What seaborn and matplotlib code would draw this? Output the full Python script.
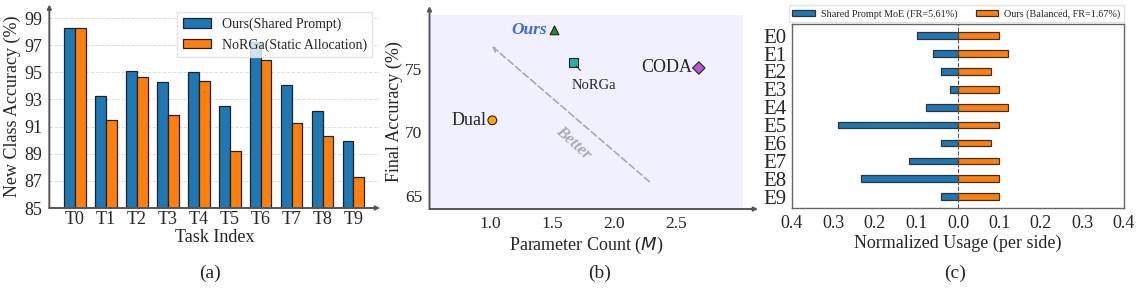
import numpy as np
import pandas as pd
import seaborn as sns
from matplotlib import pyplot as plt
from matplotlib.ticker import FuncFormatter

# (a) new class accuracy per task
tasks = ["T0", "T1", "T2", "T3", "T4", "T5", "T6", "T7", "T8", "T9"]
ours_acc = [98.3, 93.25, 95.12, 94.3, 95.02, 92.54, 97.2, 94.05, 92.17, 89.93]
norga_acc = [98.3, 91.48, 94.62, 91.87, 94.33, 89.22, 95.93, 91.23, 90.3, 87.27]
bar_names = ["Ours(Shared Prompt)", "NoRGa(Static Allocation)"]

# (b) parameter count vs final accuracy
methods = ["Ours", "NoRGa", "CODA", "Dual"]
param_count = [1.52, 1.67, 2.68, 1.02]
final_acc = [78.0, 75.45, 75.05, 70.95]

# (c) expert usage
experts = ["E0", "E1", "E2", "E3", "E4", "E5", "E6", "E7", "E8", "E9"]
shared_usage = [0.098, 0.059, 0.04, 0.02, 0.078, 0.29, 0.04, 0.117, 0.233, 0.04]
balanced_usage = [0.10, 0.12, 0.08, 0.10, 0.12, 0.10, 0.08, 0.10, 0.10, 0.10]
usage_names = ["Shared Prompt MoE (FR=5.61%)", "Ours (Balanced, FR=1.67%)"]

sns.set_style("white")
plt.rcParams["font.family"] = ["Liberation Serif", "DejaVu Serif"]
plt.rcParams["mathtext.fontset"] = "dejavusans"

blue, orange = "#1f77b4", "#ff7f0e"
spine_col = "#555555"

fig = plt.figure(figsize=(11.42, 2.95), dpi=100)
ax1 = fig.add_axes([0.0432, 0.2949, 0.2896, 0.690])
ax2 = fig.add_axes([0.3761, 0.2915, 0.2745, 0.6576])
ax3 = fig.add_axes([0.6935, 0.2939, 0.2907, 0.6247])


def arrow_axes(ax, xend=1.0, yend=1.0):
    for s in ax.spines.values():
        s.set_visible(False)
    kw = dict(xycoords="axes fraction", textcoords="axes fraction",
              annotation_clip=False,
              arrowprops=dict(arrowstyle="-|>", color=spine_col, lw=1.4,
                              mutation_scale=6, shrinkA=0, shrinkB=0))
    ax.annotate("", xy=(xend, 0), xytext=(0, 0), **kw)
    ax.annotate("", xy=(0, yend), xytext=(0, 0), **kw)


# ---- (a)
df_a = pd.DataFrame({
    "task": tasks * 2,
    "acc": ours_acc + norga_acc,
    "method": [bar_names[0]] * len(tasks) + [bar_names[1]] * len(tasks),
})
sns.barplot(data=df_a, x="task", y="acc", hue="method", palette=[blue, orange],
            saturation=1, width=0.7, gap=0, edgecolor="#222222", linewidth=0.9,
            ax=ax1, zorder=2)
ax1.set_ylim(85, 100)
ax1.set_xlim(-0.83, 9.86)
ax1.set_yticks(np.arange(85, 100, 2))
ax1.yaxis.grid(True, linestyle="--", color="#dddddd", linewidth=0.7, zorder=0)
ax1.set_axisbelow(True)
ax1.tick_params(axis="both", labelsize=13, length=3, color=spine_col, pad=2)
ax1.tick_params(axis="x", length=0)
ax1.set_xlabel("Task Index", fontsize=13, labelpad=1)
ax1.set_ylabel("New Class Accuracy (%)", fontsize=13, labelpad=2)
ax1.legend(loc="upper right", fontsize=10, borderaxespad=0.55, fancybox=False,
           framealpha=0.8, edgecolor="#dddddd", handlelength=2.0)
arrow_axes(ax1)

# ---- (b)
df_b = pd.DataFrame({"method": methods, "params": param_count, "acc": final_acc})
ax2.set_facecolor("#f0f0ff")
sns.scatterplot(data=df_b, x="params", y="acc", hue="method", style="method",
                palette={"Ours": "#228b22", "NoRGa": "#20b2aa",
                         "CODA": "#ba55d3", "Dual": "#ffa500"},
                markers={"Ours": "^", "NoRGa": "s", "CODA": "D", "Dual": "o"},
                s=40, edgecolor="#222222", linewidth=0.8, legend=False, ax=ax2,
                zorder=3)
ax2.set_xlim(0.515, 3.035)
ax2.set_ylim(64.0, 79.2)
ax2.set_xticks([1.0, 1.5, 2.0, 2.5])
ax2.set_yticks([65, 70, 75])
ax2.tick_params(axis="both", labelsize=12.5, length=3, color=spine_col, pad=2)
ax2.set_xlabel("Parameter Count ($M$)", fontsize=13, labelpad=2)
ax2.set_ylabel("Final Accuracy (%)", fontsize=13, labelpad=2)

ax2.text(param_count[0] - 0.06, final_acc[0], "Ours", color="#4169e1",
         fontsize=12.5, fontweight="bold", fontstyle="italic",
         ha="right", va="center")
ax2.annotate("NoRGa", xy=(param_count[1], final_acc[1]), xytext=(1.84, 73.7),
             fontsize=10.5, ha="center", va="center",
             arrowprops=dict(arrowstyle="-", color="#333333", lw=0.8,
                             shrinkA=5, shrinkB=3))
ax2.text(param_count[2] - 0.05, final_acc[2], "CODA", fontsize=13,
         ha="right", va="center")
ax2.text(param_count[3] - 0.05, final_acc[3], "Dual", fontsize=13,
         ha="right", va="center")
ax2.annotate("", xy=(1.0, 76.9), xytext=(2.3, 66.0),
             arrowprops=dict(arrowstyle="->", color="#aaaaaa", lw=1.2,
                             linestyle=(0, (4, 2)), mutation_scale=8))
ax2.text(1.67, 69.2, "Better", color="#aaaaaa", fontsize=12, fontweight="bold",
         fontstyle="italic", rotation=-42, ha="center", va="center")
arrow_axes(ax2, xend=1.048, yend=1.046)

# ---- (c)
df_c = pd.DataFrame({
    "expert": experts * 2,
    "usage": [-v for v in shared_usage] + balanced_usage,
    "method": [usage_names[0]] * len(experts) + [usage_names[1]] * len(experts),
})
sns.barplot(data=df_c, x="usage", y="expert", hue="method", orient="h",
            palette=[blue, orange], saturation=1, dodge=False, width=0.37,
            edgecolor="#333333", linewidth=0.9, ax=ax3, zorder=2)
ax3.axvline(0, color="#555555", linestyle="--", linewidth=0.8, zorder=3)
ax3.set_xlim(-0.4, 0.4)
ax3.set_ylim(9.65, -0.65)
ax3.set_xticks(np.arange(-0.4, 0.41, 0.1))
ax3.xaxis.set_major_formatter(FuncFormatter(lambda v, p: f"{abs(v):.1f}"))
ax3.tick_params(axis="x", labelsize=13, length=3, color=spine_col, pad=2)
ax3.tick_params(axis="y", labelsize=15, length=3, color=spine_col, pad=1)
ax3.set_xlabel("Normalized Usage (per side)", fontsize=13, labelpad=2)
ax3.set_ylabel("")
for s in ax3.spines.values():
    s.set_color("#666666")
    s.set_linewidth(1.0)
ax3.legend(loc="lower center", bbox_to_anchor=(0.495, 1.01), ncol=2,
           fontsize=7.3, fancybox=False, edgecolor="#dddddd", borderaxespad=0,
           handlelength=2.2, handleheight=0.6, handletextpad=0.6,
           borderpad=0.35, columnspacing=1.8)

for x, lab in [(0.184, "(a)"), (0.525, "(b)"), (0.836, "(c)")]:
    fig.text(x, 0.075, lab, fontsize=14, ha="center", va="center")

fig.savefig("out.png", dpi=100)
